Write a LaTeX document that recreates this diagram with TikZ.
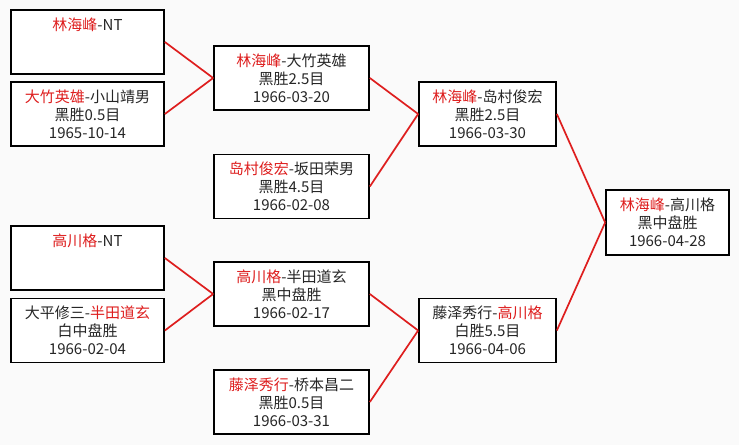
\documentclass[tikz,border=0pt]{standalone}
\usepackage{fontspec}
\setmainfont{Noto Sans CJK SC}
\usepackage{xcolor}
\usepackage{tikz}
\definecolor{winred}{RGB}{222,30,30}
\definecolor{bggray}{RGB}{250,250,250}
\newcommand{\hl}[1]{\textcolor{winred}{#1}}

\begin{document}
\begin{tikzpicture}[x=1pt, y=-1pt,
    box/.style={draw, line width=1.7pt, fill=white, minimum height=64pt, minimum width=153pt,
                inner sep=0pt, align=center, font=\fontsize{15}{18}\selectfont, text=black!85},
    link/.style={draw=winred, line width=1.7pt},
  ]
    \fill[bggray] (0,0) rectangle (739,445);
    \useasboundingbox (0,0) rectangle (739,445);

    % first round
    \node[box] (lin1) at (87.5, 42)  {\hl{林海峰}-NT\\~\\~};
    \node[box] (ota1) at (87.5,114)  {\hl{大竹英雄}-小山靖男\\黑胜0.5目\\1965-10-14};
    \node[box] (tak1) at (87.5,258)  {\hl{高川格}-NT\\~\\~};
    \node[box] (han1) at (87.5,330.5){大平修三-\hl{半田道玄}\\白中盘胜\\1966-02-04};

    % second round
    \node[box, minimum width=155pt] (lin2) at (291.5, 78)  {\hl{林海峰}-大竹英雄\\黑胜2.5目\\1966-03-20};
    \node[box, minimum width=155pt] (shi2) at (291.5,186.5){\hl{岛村俊宏}-坂田荣男\\黑胜4.5目\\1966-02-08};
    \node[box, minimum width=155pt] (tak2) at (291.5,294)  {\hl{高川格}-半田道玄\\黑中盘胜\\1966-02-17};
    \node[box, minimum width=155pt] (fuj2) at (291.5,402)  {\hl{藤泽秀行}-桥本昌二\\黑胜0.5目\\1966-03-31};

    % semi-final
    \node[box, minimum width=137pt] (lin3) at (487.5,114)  {\hl{林海峰}-岛村俊宏\\黑胜2.5目\\1966-03-30};
    \node[box, minimum width=137pt] (tak3) at (487.5,330.5){藤泽秀行-\hl{高川格}\\白胜5.5目\\1966-04-06};

    % final
    \node[box, minimum width=123pt, minimum height=65pt] (lin4) at (667.5,222.5){\hl{林海峰}-高川格\\黑中盘胜\\1966-04-28};

    \draw[link] (lin1.east) -- (lin2.west);
    \draw[link] (ota1.east) -- (lin2.west);
    \draw[link] (tak1.east) -- (tak2.west);
    \draw[link] (han1.east) -- (tak2.west);
    \draw[link] (lin2.east) -- (lin3.west);
    \draw[link] (shi2.east) -- (lin3.west);
    \draw[link] (tak2.east) -- (tak3.west);
    \draw[link] (fuj2.east) -- (tak3.west);
    \draw[link] (lin3.east) -- (lin4.west);
    \draw[link] (tak3.east) -- (lin4.west);
  \end{tikzpicture}
\end{document}
